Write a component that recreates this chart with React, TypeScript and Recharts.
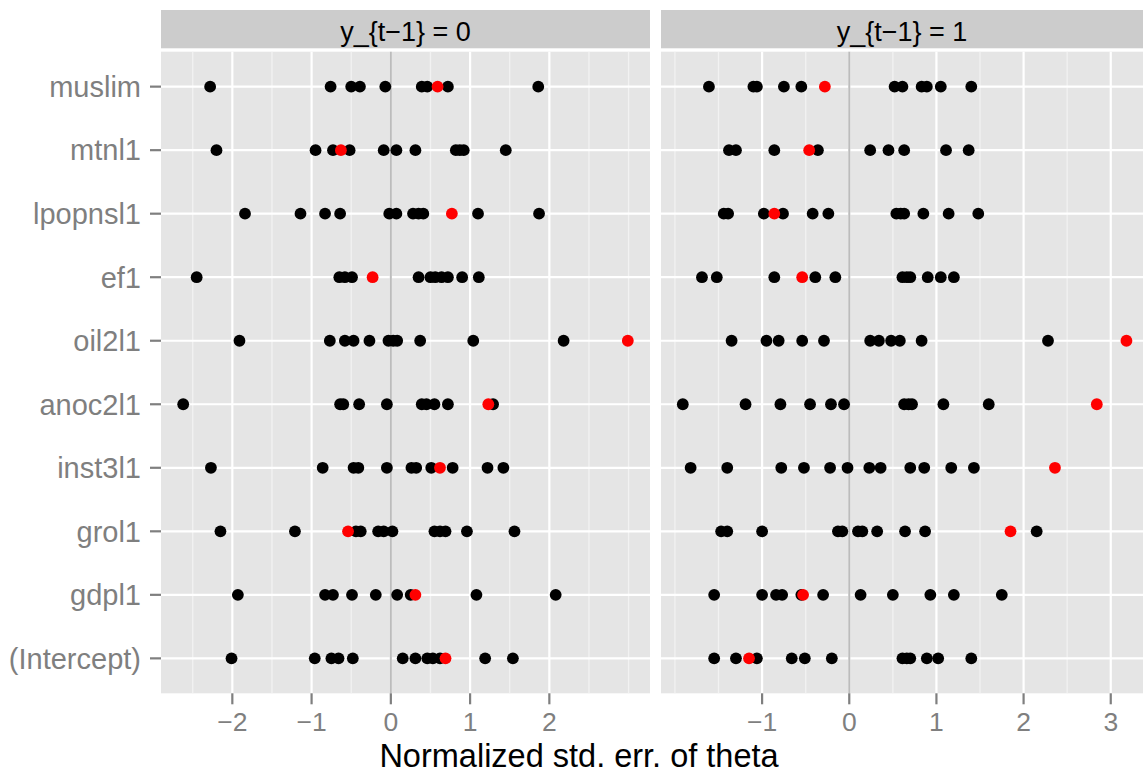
import React from "react";
import { CartesianGrid, Scatter, ScatterChart, XAxis, YAxis } from "recharts";

const CATEGORIES = [
  "muslim",
  "mtnl1",
  "lpopnsl1",
  "ef1",
  "oil2l1",
  "anoc2l1",
  "inst3l1",
  "grol1",
  "gdpl1",
  "(Intercept)",
];

// y_{t-1} = 0 panel, one list per category (same order as CATEGORIES)
const LEFT_BLACK = [
  [-2.28, -0.76, -0.5, -0.39, -0.07, 0.39, 0.46, 0.72, 1.86],
  [-2.2, -0.95, -0.73, -0.52, -0.09, 0.07, 0.31, 0.82, 0.87, 0.92, 1.45],
  [-1.84, -1.14, -0.83, -0.64, -0.02, 0.07, 0.28, 0.35, 0.41, 1.1, 1.87],
  [-2.45, -0.65, -0.58, -0.49, 0.35, 0.5, 0.56, 0.64, 0.72, 0.9, 1.11],
  [-1.91, -0.77, -0.58, -0.47, -0.27, -0.03, 0.03, 0.08, 0.37, 1.04, 2.18],
  [-2.62, -0.64, -0.6, -0.4, -0.05, 0.39, 0.45, 0.55, 0.72, 1.29],
  [-2.27, -0.86, -0.47, -0.41, -0.05, 0.26, 0.32, 0.51, 0.78, 1.22, 1.42],
  [-2.15, -1.21, -0.44, -0.38, -0.16, -0.09, 0.02, 0.55, 0.62, 0.69, 0.96, 1.56],
  [-1.93, -0.83, -0.73, -0.49, -0.19, 0.08, 0.25, 1.08, 2.08],
  [-2.01, -0.96, -0.75, -0.66, -0.48, 0.15, 0.31, 0.46, 0.53, 0.62, 1.19, 1.54],
];
const LEFT_RED = [0.59, -0.63, 0.77, -0.23, 2.99, 1.23, 0.62, -0.54, 0.31, 0.69];

// y_{t-1} = 1 panel
const RIGHT_BLACK = [
  [-1.61, -1.1, -1.06, -0.75, -0.55, 0.52, 0.61, 0.83, 0.89, 1.05, 1.4],
  [-1.38, -1.3, -0.86, -0.36, 0.24, 0.45, 0.63, 1.11, 1.37],
  [-1.44, -1.39, -0.98, -0.76, -0.42, -0.24, 0.54, 0.59, 0.63, 0.85, 1.14, 1.48],
  [-1.69, -1.52, -0.86, -0.39, -0.16, 0.61, 0.66, 0.7, 0.9, 1.05, 1.2],
  [-1.35, -0.95, -0.81, -0.54, -0.29, 0.24, 0.34, 0.48, 0.58, 0.83, 2.28],
  [-1.91, -1.19, -0.79, -0.45, -0.21, -0.06, 0.63, 0.68, 0.72, 1.08, 1.6],
  [-1.82, -1.4, -0.78, -0.52, -0.22, -0.02, 0.23, 0.36, 0.7, 0.86, 1.17, 1.43],
  [-1.47, -1.4, -1.0, -0.13, -0.08, 0.1, 0.15, 0.32, 0.64, 0.87, 2.15],
  [-1.55, -1.0, -0.84, -0.77, -0.55, -0.3, 0.13, 0.5, 0.93, 1.2, 1.75],
  [-1.55, -1.3, -1.06, -0.66, -0.51, -0.2, 0.61, 0.66, 0.7, 0.89, 1.02, 1.4],
];
const RIGHT_RED = [-0.28, -0.46, -0.86, -0.54, 3.18, 2.84, 2.36, 1.85, -0.53, -1.15];

const LEFT_TICKS = [-2, -1, 0, 1, 2];
const LEFT_MINOR = [-2.5, -1.5, -0.5, 0.5, 1.5, 2.5, 3];
const LEFT_DOMAIN = [-2.9, 3.27];
const RIGHT_TICKS = [-1, 0, 1, 2, 3];
const RIGHT_MINOR = [-2, -1.5, -0.5, 0.5, 1.5, 2.5];
const RIGHT_DOMAIN = [-2.16, 3.37];

const Y_TICKS = CATEGORIES.map((_, i) => CATEGORIES.length - i);
const FONT = "'Liberation Sans', Arial, Helvetica, sans-serif";
const GREY = "#7f7f7f";

const toPoints = (rows: number[][]) =>
  rows.flatMap((vals, i) => vals.map((x) => ({ x, y: CATEGORIES.length - i })));
const redPoints = (vals: number[]) =>
  vals.map((x, i) => ({ x, y: CATEGORIES.length - i }));

const fmt = (v: number) => (v < 0 ? "\u2212" + Math.abs(v) : String(v));

const dot = (fill: string) => (p: any) =>
  <circle cx={p.cx} cy={p.cy} r={5.9} fill={fill} />;

function Panel({
  black,
  red,
  ticks,
  minor,
  domain,
  width,
  showY,
}: {
  black: number[][];
  red: number[];
  ticks: number[];
  minor: number[];
  domain: number[];
  width: number;
  showY: boolean;
}) {
  return (
    <ScatterChart
      width={width}
      height={774}
      margin={{ top: 51.7, right: 0, bottom: 20.7, left: 0 }}
    >
      <CartesianGrid
        fill="#e5e5e5"
        stroke="#f2f2f2"
        strokeWidth={1.3}
        horizontal={false}
        verticalValues={minor}
        syncWithTicks
      />
      <CartesianGrid
        stroke="#ffffff"
        strokeWidth={2.2}
        verticalValues={ticks}
        horizontalValues={Y_TICKS}
        syncWithTicks
      />
      <CartesianGrid
        stroke="#bcbcbc"
        strokeWidth={2}
        horizontal={false}
        verticalValues={[0]}
        syncWithTicks
      />
      <XAxis
        type="number"
        dataKey="x"
        domain={domain}
        ticks={ticks}
        interval={0}
        allowDataOverflow
        height={60}
        axisLine={false}
        tickSize={11}
        tickMargin={8}
        tickLine={{ stroke: GREY, strokeWidth: 2.2 }}
        tickFormatter={fmt}
        tick={{ fill: GREY, fontSize: 26.5, fontFamily: FONT }}
      />
      <YAxis
        type="number"
        dataKey="y"
        domain={[0.45, 10.55]}
        ticks={Y_TICKS}
        interval={0}
        hide={!showY}
        width={161}
        axisLine={false}
        tickSize={11}
        tickMargin={9}
        tickLine={{ stroke: GREY, strokeWidth: 2.2 }}
        tickFormatter={(v: number) => CATEGORIES[CATEGORIES.length - v]}
        tick={{ fill: GREY, fontSize: 29, fontFamily: FONT }}
      />
      <Scatter data={toPoints(black)} shape={dot("#000000")} isAnimationActive={false} />
      <Scatter data={redPoints(red)} shape={dot("#ff0000")} isAnimationActive={false} />
    </ScatterChart>
  );
}

export default function App() {
  return (
    <div
      style={{
        position: "absolute",
        left: 0,
        top: 0,
        width: 1143,
        height: 774,
        background: "#ffffff",
        fontFamily: FONT,
      }}
    >
      <div style={{ position: "absolute", left: 0, top: 0 }}>
        <Panel
          black={LEFT_BLACK}
          red={LEFT_RED}
          ticks={LEFT_TICKS}
          minor={LEFT_MINOR}
          domain={LEFT_DOMAIN}
          width={650}
          showY
        />
      </div>
      <div style={{ position: "absolute", left: 661, top: 0 }}>
        <Panel
          black={RIGHT_BLACK}
          red={RIGHT_RED}
          ticks={RIGHT_TICKS}
          minor={RIGHT_MINOR}
          domain={RIGHT_DOMAIN}
          width={482}
          showY={false}
        />
      </div>
      <svg
        width={1143}
        height={774}
        style={{ position: "absolute", left: 0, top: 0, pointerEvents: "none" }}
      >
        <rect x={161} y={10} width={489} height={38.3} fill="#cccccc" />
        <rect x={661} y={10} width={482} height={38.3} fill="#cccccc" />
        <text x={405.5} y={40.5} textAnchor="middle" fontSize={27} fontFamily={FONT} fill="#000">
          {"y_{t\u22121} = 0"}
        </text>
        <text x={902} y={40.5} textAnchor="middle" fontSize={27} fontFamily={FONT} fill="#000">
          {"y_{t\u22121} = 1"}
        </text>
        <text x={579} y={766.5} textAnchor="middle" fontSize={32.5} fontFamily={FONT} fill="#000">
          Normalized std. err. of theta
        </text>
      </svg>
    </div>
  );
}
